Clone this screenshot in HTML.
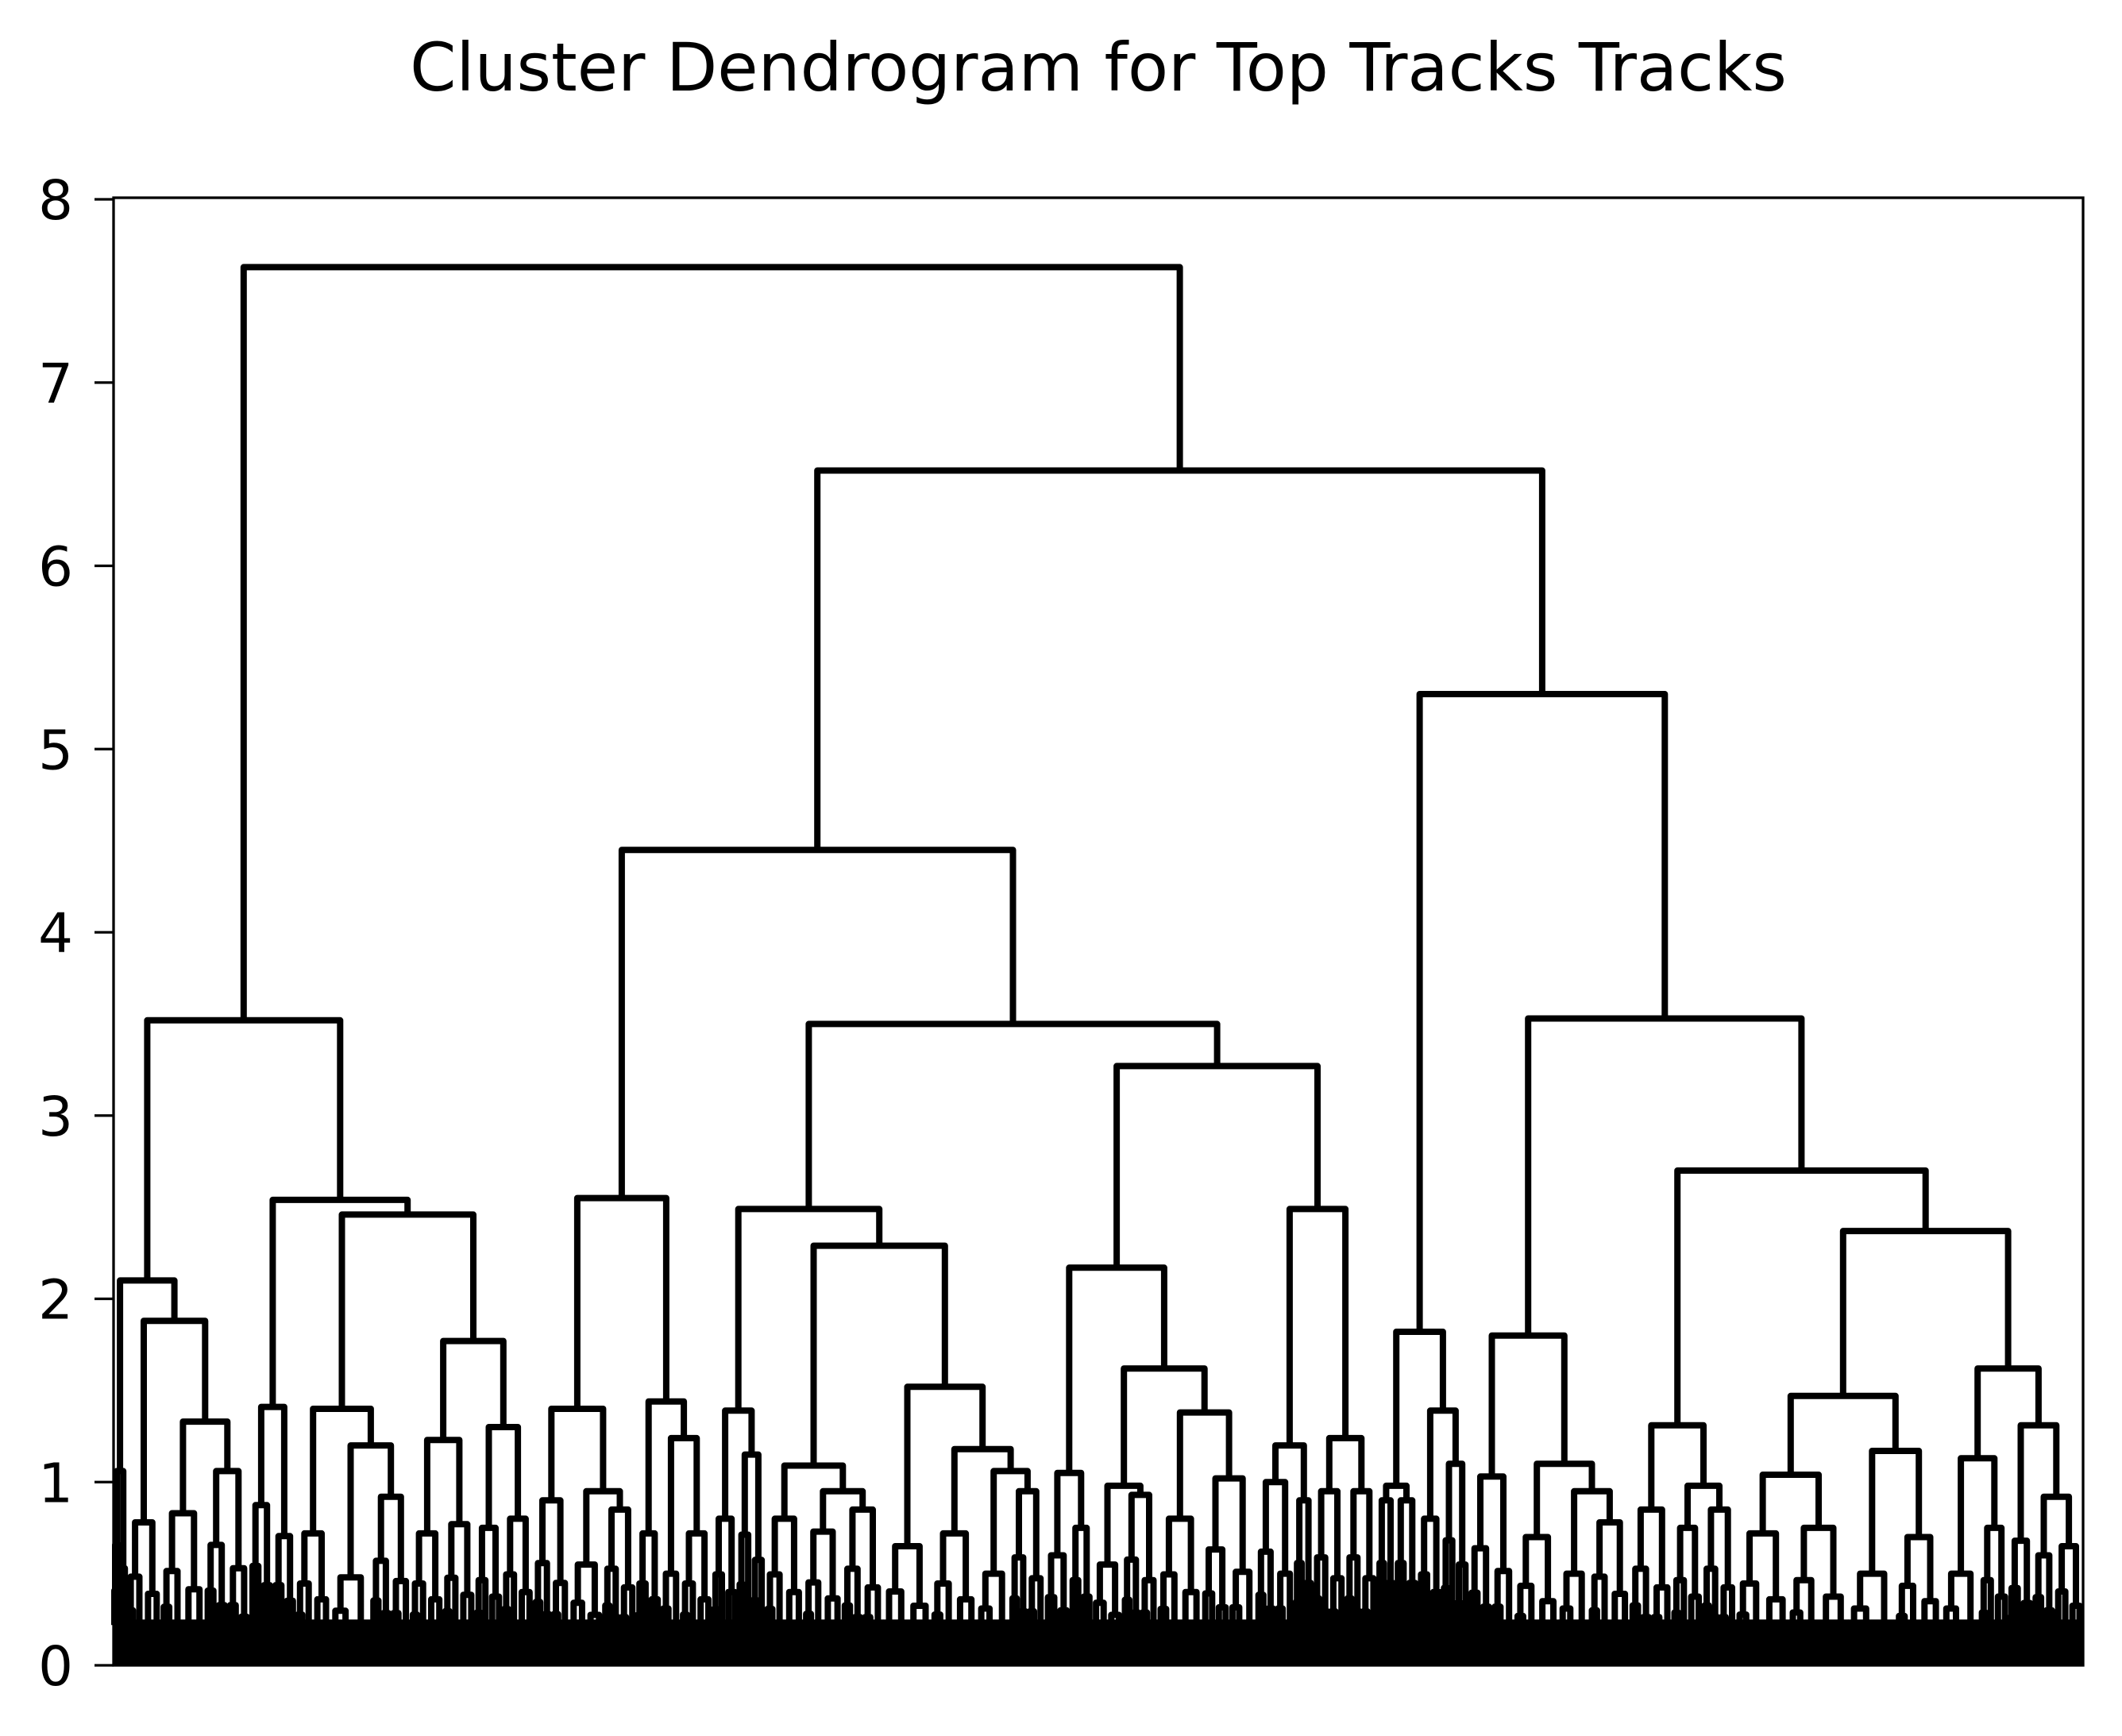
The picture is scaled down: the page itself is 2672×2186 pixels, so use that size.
<!DOCTYPE html>
<html><head><meta charset="utf-8"><style>
html,body{margin:0;padding:0;background:#fff;}
svg{display:block;font-family:"DejaVu Sans","Liberation Sans",sans-serif;}
</style></head><body>
<svg id="chart" width="2672" height="2186" viewBox="0 0 2672 2186" xmlns="http://www.w3.org/2000/svg">
<rect x="0" y="0" width="2672" height="2186" fill="#fff"/>
<text x="1383" y="114" font-size="83.5" text-anchor="middle" fill="#000">Cluster Dendrogram for Top Tracks Tracks</text>
<g id="marks"></g>
<g id="yaxis"></g>
<rect x="143" y="249" width="2480" height="1848" fill="none" stroke="#000" stroke-width="3.3"/>
</svg>
<script>
// leaf cluster sizes (left to right)
const leafWeights = [9.5,25.5,32.5,33,34,25.5,30,29.5,24,23.5,20,23,26.5,25,24.5,18,15,23,19,20,28.5,28.5,30,36,33.5,24.5,25.5,18.5,16.5,22.5,26,32.5,40,28.5,13.5,24,23.5,13,17,18,19.5,34,32.5,22.5,30,31.5,22,25,39,43.5,35.5,33.5,28.5,21,18,16,21];
// leaf cluster merge heights
const leafHeights = [1.06,0.78,0.83,1.06,1.41,0.72,0.48,0.92,0.72,0.77,0.75,0.8,0.9,0.55,0.85,0.72,0.5,0.72,0.8,1.15,0.8,0.73,0.85,0.65,0.72,0.5,0.95,0.6,0.75,0.55,0.93,0.8,1.02,1.0,0.9,0.95,0.95,0.9,0.9,0.8,1.1,1.03,0.7,0.5,0.78,0.85,0.75,0.85,0.72,0.75,0.5,0.7,0.5,0.75,0.68,0.6,0.65];
// upper tree: [height, left, right]; numbers = leaf index
const leftTree = [3.52,[2.1,0,[1.88,1,[1.33,2,3]]],[2.54,4,[2.46,[1.40,5,[1.2,6,7]],[1.77,[1.23,8,9],[1.3,10,11]]]]];
const midTree = [4.45,[2.55,[1.4,12,[0.95,13,14]],[1.44,15,[1.24,16,17]]],[3.5,[2.49,[1.39,18,19],[2.29,[1.09,20,[0.95,21,22]],[1.52,23,[1.18,24,[1.06,25,26]]]]],[3.27,[2.17,[1.05,27,28],[1.62,[0.98,29,30],[1.38,31,32]]],[2.49,[1.2,33,34],[1.24,35,36]]]]];
const rightTree = [5.3,[1.82,[0.98,37,38],[1.39,39,40]],[3.53,[1.8,41,[1.1,42,[0.95,43,44]]],[2.7,[1.31,45,[0.98,46,47]],[2.37,[1.47,[1.04,48,49],[1.17,50,51]],[1.62,[1.13,52,53],[1.31,54,[0.92,55,56]]]]]]];
const topHeights = [7.63, 6.52];
const yTicks = [0,1,2,3,4,5,6,7,8];
const baseHeight = 0.22;

const X0=143, X1=2623, Y0=2097, PXU=230.75;
const totalW = leafWeights.reduce((a,b)=>a+b,0);
function xs(u){return X0 + u/totalW*(X1-X0);}
function ys(v){return Y0 - v*PXU;}
const NS="http://www.w3.org/2000/svg";
const marks=document.getElementById('marks');
const starts=[]; let acc=0;
leafWeights.forEach(w=>{starts.push(acc);acc+=w;});
let d='';
function link(xl,hl,xr,hr,h){
  d+=`M${xl.toFixed(1)},${ys(hl).toFixed(1)}V${ys(h).toFixed(1)}H${xr.toFixed(1)}V${ys(hr).toFixed(1)}`;
}
function fork(c,w,h,depth){
  if(depth===0||h<=baseHeight+0.04){ d+=`M${c.toFixed(1)},${ys(h).toFixed(1)}V${ys(baseHeight).toFixed(1)}`; return; }
  const hl=Math.max(baseHeight+0.03,h*0.62), hr=Math.max(baseHeight+0.03,h*0.5);
  link(c-w/4,hl,c+w/4,hr,h);
  fork(c-w/4,w/2,hl,depth-1);
  fork(c+w/4,w/2,hr,depth-1);
}
function leaf(i){
  const c=xs(starts[i]+leafWeights[i]/2), w=xs(leafWeights[i])-X0, h=leafHeights[i];
  fork(c,w,h,3);
  const r=document.createElementNS(NS,'rect');
  r.setAttribute('x',xs(starts[i]).toFixed(1));
  r.setAttribute('y',ys(baseHeight+0.03).toFixed(1));
  r.setAttribute('width',(w+0.5).toFixed(1));
  r.setAttribute('height',(baseHeight+0.03)*PXU);
  r.setAttribute('fill','#000');
  
  
  marks.appendChild(r);
  return [c,h];
}
function walk(n){
  if(typeof n==='number') return leaf(n);
  const a=walk(n[1]), b=walk(n[2]);
  link(a[0],a[1],b[0],b[1],n[0]);
  return [(a[0]+b[0])/2,n[0]];
}
const L=walk(leftTree), M=walk(midTree), R=walk(rightTree);
link(M[0],M[1],R[0],R[1],topHeights[1]);
const MR=[(M[0]+R[0])/2,topHeights[1]];
link(L[0],L[1],MR[0],MR[1],topHeights[0]);
const p=document.createElementNS(NS,'path');
p.setAttribute('d',d);
p.setAttribute('fill','none');
p.setAttribute('stroke','#000');
p.setAttribute('stroke-width','8');
p.setAttribute('stroke-linejoin','round');


marks.appendChild(p);

const ya=document.getElementById('yaxis');
yTicks.forEach(t=>{
  const y=ys(t);
  const ln=document.createElementNS(NS,'line');
  ln.setAttribute('x1',119);ln.setAttribute('x2',143);
  ln.setAttribute('y1',y);ln.setAttribute('y2',y);
  ln.setAttribute('stroke','#000');ln.setAttribute('stroke-width','3.3');
  
  
  ya.appendChild(ln);
  const tx=document.createElementNS(NS,'text');
  tx.setAttribute('x',92);tx.setAttribute('y',y+25);
  tx.setAttribute('font-size','69');tx.setAttribute('text-anchor','end');
  tx.textContent=String(t);
  
  
  ya.appendChild(tx);
});
</script>
</body></html>
